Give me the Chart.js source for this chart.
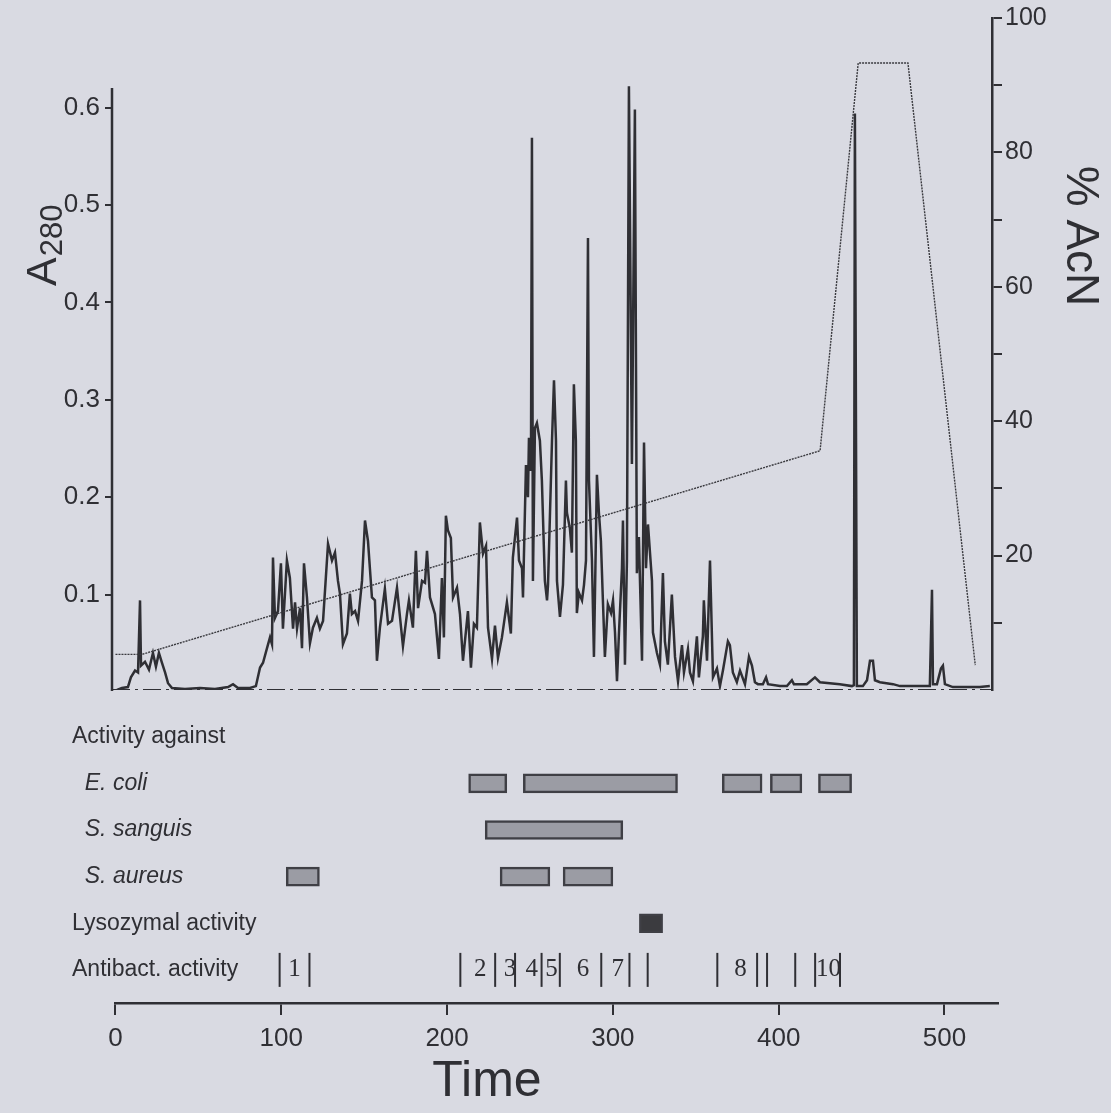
<!DOCTYPE html>
<html>
<head>
<meta charset="utf-8">
<script src="https://cdn.jsdelivr.net/npm/chart.js@4.4.1/dist/chart.umd.min.js"></script>
<style>
  html, body { margin: 0; padding: 0; background: #d9dae2; }
  #wrap { position: relative; width: 1111px; height: 1113px; overflow: hidden; }
  #traceChart { position: absolute; left: 0; top: 0; }
  #activityChart { position: absolute; left: 0; top: 700px; }
</style>
</head>
<body>
<div id="wrap">
  <canvas id="traceChart" width="1111" height="720"></canvas>
  <canvas id="activityChart" width="1111" height="413"></canvas>
</div>
<script>
// A280 trace (time, absorbance)
const traceTime = [
  -1.5, 0.9, 3.9, 7.5, 9.3, 11.8, 13.6, 14.8, 15.4, 17.8,
  20.2, 22.6, 24.4, 26.2, 28.0, 29.9, 31.7, 34.1, 41.9, 51.0,
  60.0, 67.9, 70.9, 73.9, 81.1, 84.7, 87.2, 89.0, 91.4, 93.2,
  94.4, 95.0, 96.2, 98.0, 99.8, 101.0, 103.4, 105.2, 107.1, 108.3,
  109.5, 111.3, 112.5, 113.7, 115.5, 117.3, 119.1, 121.5, 123.3, 125.2,
  128.2, 130.6, 132.4, 134.2, 135.4, 137.2, 139.6, 141.4, 142.6, 144.5,
  146.3, 148.7, 150.5, 152.3, 154.7, 156.5, 157.7, 159.5, 162.5, 164.4,
  166.8, 169.8, 173.4, 175.8, 177.0, 179.4, 181.2, 182.5, 184.9, 186.7,
  187.9, 189.7, 192.7, 195.1, 196.9, 198.1, 199.3, 200.5, 202.3, 203.6,
  206.0, 207.8, 209.6, 212.6, 214.4, 216.2, 218.0, 219.8, 221.7, 223.5,
  224.7, 227.1, 228.9, 230.7, 233.1, 236.1, 238.5, 239.7, 242.2, 243.4,
  245.2, 245.8, 247.6, 248.8, 249.4, 250.6, 251.2, 251.8, 253.0, 254.2,
  256.0, 257.2, 259.0, 260.3, 260.9, 262.1, 263.3, 264.5, 265.7, 266.3,
  268.1, 269.9, 271.7, 272.3, 274.1, 275.3, 276.5, 277.7, 278.3, 279.5,
  281.4, 282.6, 283.8, 285.0, 285.6, 287.4, 288.6, 290.4, 291.6, 292.8,
  294.0, 295.2, 297.0, 298.9, 300.1, 301.3, 302.5, 303.7, 305.5, 306.1,
  307.3, 308.5, 309.7, 311.5, 313.3, 314.5, 315.7, 317.6, 318.8, 320.0,
  321.2, 323.6, 324.2, 326.6, 328.4, 330.2, 331.4, 333.2, 335.6, 337.5,
  339.3, 341.7, 342.9, 345.3, 346.5, 348.3, 350.7, 351.9, 354.3, 354.9,
  356.8, 358.6, 360.4, 362.8, 364.6, 366.4, 369.4, 370.6, 372.4, 374.8,
  376.7, 379.7, 382.1, 383.9, 385.7, 387.5, 390.5, 392.4, 393.6, 400.8,
  405.0, 408.0, 409.2, 417.0, 421.9, 424.9, 436.9, 444.2, 445.4, 446.0,
  447.2, 450.8, 453.3, 455.1, 456.9, 458.1, 461.1, 469.0, 473.2, 491.2,
  492.5, 493.1, 495.5, 497.9, 499.1, 500.3, 505.1, 521.4, 527.4
];
const traceA280 = [
  0.001, 0.002, 0.004, 0.005, 0.015, 0.022, 0.020, 0.094, 0.027, 0.031,
  0.023, 0.040, 0.026, 0.040, 0.030, 0.020, 0.009, 0.004, 0.003, 0.004,
  0.003, 0.005, 0.008, 0.004, 0.004, 0.006, 0.025, 0.030, 0.045, 0.056,
  0.049, 0.138, 0.076, 0.083, 0.132, 0.065, 0.135, 0.117, 0.065, 0.092,
  0.065, 0.086, 0.045, 0.132, 0.097, 0.050, 0.066, 0.076, 0.065, 0.073,
  0.152, 0.135, 0.143, 0.114, 0.101, 0.049, 0.060, 0.101, 0.080, 0.083,
  0.073, 0.114, 0.176, 0.155, 0.097, 0.094, 0.032, 0.066, 0.106, 0.070,
  0.073, 0.107, 0.047, 0.080, 0.094, 0.066, 0.145, 0.086, 0.114, 0.112,
  0.145, 0.097, 0.080, 0.034, 0.117, 0.056, 0.181, 0.166, 0.158, 0.097,
  0.107, 0.080, 0.032, 0.083, 0.025, 0.070, 0.066, 0.174, 0.142, 0.150,
  0.066, 0.034, 0.068, 0.035, 0.056, 0.092, 0.060, 0.138, 0.179, 0.135,
  0.127, 0.097, 0.233, 0.200, 0.261, 0.227, 0.569, 0.114, 0.271, 0.276,
  0.258, 0.217, 0.114, 0.094, 0.110, 0.184, 0.258, 0.320, 0.258, 0.114,
  0.077, 0.110, 0.217, 0.184, 0.168, 0.143, 0.316, 0.258, 0.081, 0.102,
  0.094, 0.110, 0.135, 0.466, 0.217, 0.135, 0.036, 0.223, 0.184, 0.155,
  0.094, 0.036, 0.090, 0.081, 0.094, 0.061, 0.011, 0.061, 0.127, 0.176,
  0.028, 0.135, 0.622, 0.234, 0.598, 0.122, 0.159, 0.032, 0.256, 0.127,
  0.172, 0.114, 0.061, 0.040, 0.028, 0.122, 0.052, 0.028, 0.100, 0.036,
  0.011, 0.048, 0.020, 0.044, 0.020, 0.011, 0.057, 0.015, 0.057, 0.094,
  0.032, 0.135, 0.015, 0.024, 0.006, 0.022, 0.052, 0.048, 0.020, 0.010,
  0.022, 0.008, 0.036, 0.027, 0.010, 0.008, 0.008, 0.015, 0.008, 0.006,
  0.006, 0.012, 0.008, 0.008, 0.015, 0.010, 0.008, 0.006, 0.007, 0.594,
  0.006, 0.006, 0.012, 0.032, 0.032, 0.012, 0.010, 0.008, 0.006, 0.006,
  0.105, 0.008, 0.008, 0.024, 0.027, 0.008, 0.005, 0.005, 0.006
];

// acetonitrile gradient
const gradTime = [0, 16, 425, 448, 478, 518.6];
const gradAcN = [5.3, 5.3, 35.6, 93.3, 93.3, 3.7];

// axis ticks
const a280Ticks = [0.1, 0.2, 0.3, 0.4, 0.5, 0.6];
const a280AxisTop = 0.62;
const a280Floor = 0.002;
const acnTicks = [10, 20, 30, 40, 50, 60, 70, 80, 90, 100];
const acnLabels = [20, 40, 60, 80, 100];
const timeTicks = [0, 100, 200, 300, 400, 500];

// activity rows
const laneLabels = ['Activity against', '  E. coli', '  S. sanguis', '  S. aureus', 'Lysozymal activity', 'Antibact. activity'];
const laneItalic = [false, true, true, true, false, false];
const eColiBars = [[213, 236], [246, 339], [366, 390], [395, 414], [424, 444]];
const sanguisBars = [[223, 306]];
const aureusBars = [[103, 123], [232, 262], [270, 300]];
const lysozymeBars = [[316, 330]];

// antibacterial fractions: cut marks and fraction numbers
const antibactCuts = [99, 117, 208, 229, 241, 257, 268, 293, 310, 321, 363, 387, 393, 410, 422, 437];
const fractionTime = [108, 220, 238, 251, 263, 282, 303, 377, 430];
const fractionNames = ['1', '2', '3', '4', '5', '6', '7', '8', '10'];

const ink = '#2f2f34';
const sans = '"Liberation Sans", Arial, sans-serif';

const topExtras = {
  id: 'topExtras',
  afterDraw(chart) {
    const ctx = chart.ctx;
    const yA = chart.scales.yA;
    ctx.save();
    // left axis stops at the top of the A280 range
    ctx.strokeStyle = ink;
    ctx.lineWidth = 2.5;
    ctx.beginPath();
    ctx.moveTo(yA.right, yA.getPixelForValue(yA.min) + 1);
    ctx.lineTo(yA.right, yA.getPixelForValue(a280AxisTop));
    ctx.stroke();

    ctx.fillStyle = ink;
    // A280 with subscript
    ctx.save();
    ctx.translate(56, 286);
    ctx.rotate(-Math.PI / 2);
    ctx.textBaseline = 'alphabetic';
    ctx.textAlign = 'left';
    ctx.font = '43px ' + sans;
    ctx.fillText('A', 0, 0);
    const w = ctx.measureText('A').width;
    ctx.font = '31px ' + sans;
    ctx.fillText('280', w + 1, 6);
    ctx.restore();

    // % AcN
    ctx.save();
    ctx.translate(1080, 236);
    ctx.rotate(Math.PI / 2);
    ctx.textAlign = 'center';
    ctx.textBaseline = 'middle';
    ctx.font = '46px ' + sans;
    ctx.fillText('% AcN', 0, 0);
    ctx.restore();
    ctx.restore();
  }
};

new Chart(document.getElementById('traceChart'), {
  type: 'line',
  data: {
    datasets: [
      {
        label: '% AcN',
        data: gradTime.map((t, i) => ({ x: t, y: gradAcN[i] })),
        yAxisID: 'yAcN',
        borderColor: '#3a3a3f',
        borderWidth: 1.4,
        borderDash: [2, 1],
        pointRadius: 0
      },
      {
        label: 'A280',
        data: traceTime.map((t, i) => ({ x: t, y: traceA280[i] })),
        yAxisID: 'yA',
        borderColor: ink,
        borderWidth: 2.5,
        pointRadius: 0
      },
      {
        label: 'baseline',
        data: [{ x: -2.1, y: a280Floor }, { x: 528.7, y: a280Floor }],
        yAxisID: 'yA',
        borderColor: ink,
        borderWidth: 2,
        borderDash: [18, 5, 3, 5],
        pointRadius: 0
      }
    ]
  },
  options: {
    responsive: false,
    animation: false,
    devicePixelRatio: 1,
    layout: { padding: { left: 0, right: 0, top: 18, bottom: 30 } },
    plugins: { legend: { display: false }, tooltip: { enabled: false } },
    scales: {
      x: { type: 'linear', min: -2.1, max: 528.7, display: false },
      yA: {
        type: 'linear',
        position: 'left',
        min: a280Floor,
        max: 0.692,
        afterFit: (s) => { s.width = 112; },
        afterBuildTicks: (s) => { s.ticks = a280Ticks.map((v) => ({ value: v })); },
        border: { display: false },
        grid: { drawOnChartArea: false, tickLength: 7, color: ink, lineWidth: 2 },
        ticks: {
          padding: 5,
          color: ink,
          font: { family: sans, size: 26, lineHeight: 1 },
          callback: (v) => v.toFixed(1)
        }
      },
      yAcN: {
        type: 'linear',
        position: 'right',
        min: 0,
        max: 100,
        afterFit: (s) => { s.width = 119; },
        afterBuildTicks: (s) => { s.ticks = acnTicks.map((v) => ({ value: v })); },
        border: { color: ink, width: 2.5 },
        grid: { drawOnChartArea: false, tickLength: 10, color: ink, lineWidth: 2 },
        ticks: {
          padding: 3,
          color: ink,
          font: { family: sans, size: 25, lineHeight: 1 },
          callback: (v) => (acnLabels.includes(v) ? String(v) : '')
        }
      }
    }
  },
  plugins: [topExtras]
});

const activityBars = [
  ...eColiBars.map((b) => ({ y: 1, x: b })),
  ...sanguisBars.map((b) => ({ y: 2, x: b })),
  ...aureusBars.map((b) => ({ y: 3, x: b })),
  ...lysozymeBars.map((b) => ({ y: 4, x: b }))
];

const bottomExtras = {
  id: 'bottomExtras',
  afterDatasetsDraw(chart) {
    const { ctx, scales } = chart;
    const x = scales.x;
    const yLane = scales.yLane;
    ctx.save();
    ctx.fillStyle = ink;
    ctx.textAlign = 'center';
    ctx.textBaseline = 'middle';
    ctx.font = '25px "Liberation Serif", serif';
    fractionNames.forEach((n, i) => {
      ctx.fillText(n, x.getPixelForValue(fractionTime[i]), yLane.getPixelForValue(5));
    });
    ctx.font = '50px ' + sans;
    ctx.fillText('Time', 487, 382);
    ctx.restore();
  }
};

new Chart(document.getElementById('activityChart'), {
  type: 'bar',
  data: {
    datasets: [
      {
        type: 'bar',
        indexAxis: 'y',
        data: activityBars,
        xAxisID: 'x',
        yAxisID: 'yLane',
        backgroundColor: (c) => (c.raw && c.raw.y === 4 ? '#3b3b3f' : '#9b9ca4'),
        borderColor: '#3f3f45',
        borderWidth: 2.5,
        borderSkipped: false,
        barThickness: 19
      },
      {
        type: 'scatter',
        data: antibactCuts.map((t) => ({ x: t, y: 5 })),
        xAxisID: 'x',
        yAxisID: 'yLane',
        pointStyle: 'line',
        pointRotation: 90,
        pointRadius: 17,
        pointBorderColor: ink,
        pointBorderWidth: 2
      }
    ]
  },
  options: {
    responsive: false,
    animation: false,
    devicePixelRatio: 1,
    layout: { padding: { left: 72, right: 113, top: 15, bottom: 0 } },
    plugins: { legend: { display: false }, tooltip: { enabled: false } },
    scales: {
      x: {
        type: 'linear',
        position: 'bottom',
        offset: false,
        min: -0.3,
        max: 532.3,
        afterFit: (s) => { s.height = 110; },
        afterBuildTicks: (s) => { s.ticks = timeTicks.map((v) => ({ value: v })); },
        border: { color: ink, width: 2.5 },
        grid: { offset: false, drawOnChartArea: false, tickLength: 12, color: ink, lineWidth: 2 },
        ticks: { padding: 11, color: ink, font: { family: sans, size: 26, lineHeight: 1 } }
      },
      yLane: {
        type: 'linear',
        position: 'left',
        offset: false,
        reverse: true,
        min: -0.38,
        max: 5.71,
        afterFit: (s) => { s.width = 43; },
        afterBuildTicks: (s) => { s.ticks = laneLabels.map((_, i) => ({ value: i })); },
        border: { display: false },
        grid: { display: false, offset: false },
        ticks: {
          mirror: true,
          padding: -43,
          color: ink,
          font: (c) => ({ family: sans, size: 23, lineHeight: 1, style: laneItalic[c.index] ? 'italic' : 'normal' }),
          callback: (v, i) => laneLabels[i]
        }
      }
    }
  },
  plugins: [bottomExtras]
});
</script>
</body>
</html>
